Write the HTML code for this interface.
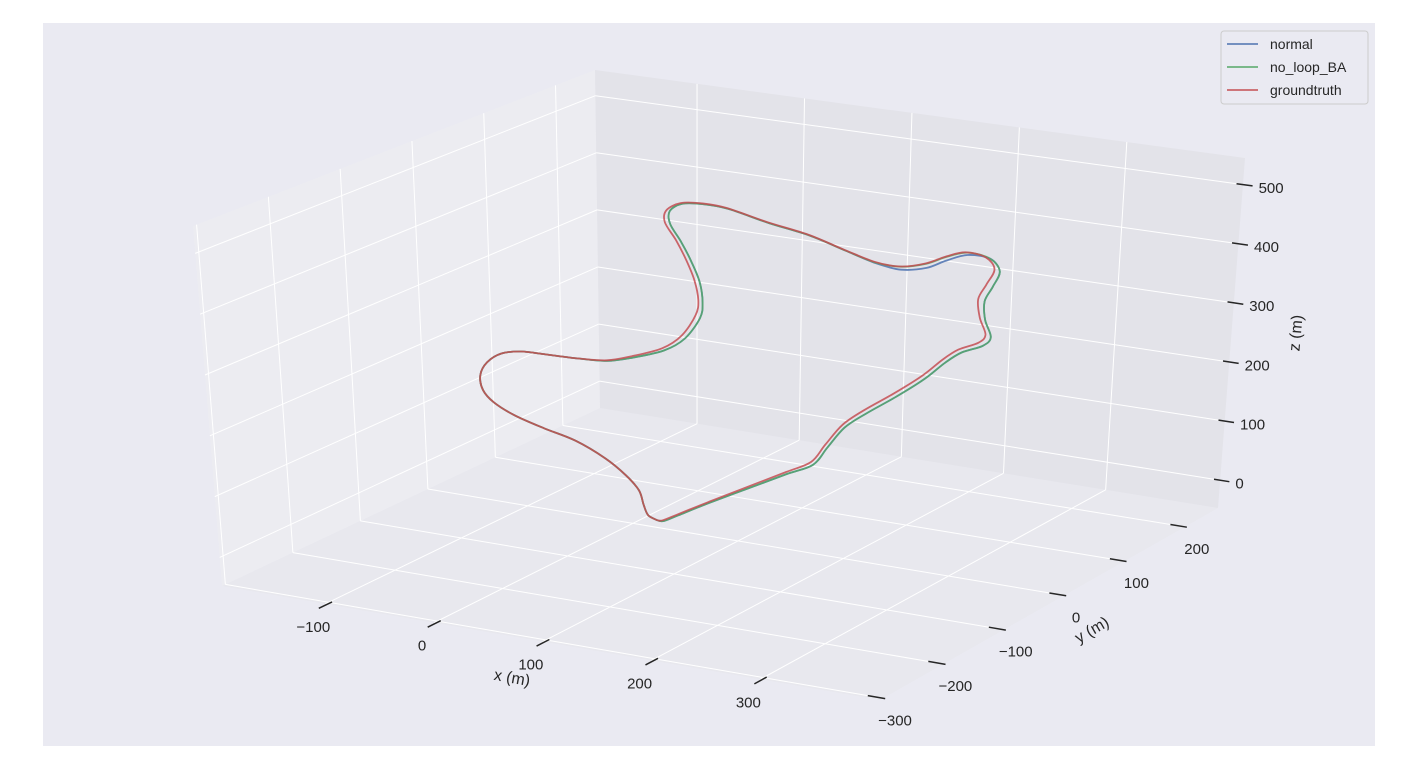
<!DOCTYPE html>
<html><head><meta charset="utf-8"><style>
html,body{margin:0;padding:0;background:#fff;}
svg{display:block;font-family:"Liberation Sans","DejaVu Sans",sans-serif;}
</style></head><body>
<svg id="chart" width="1418" height="769" viewBox="0 0 1418 769">
<rect x="43" y="23" width="1332" height="723" fill="#eaeaf2"/>
<g id="panes"></g>
<g id="grid"></g>
<g id="series"></g>
<g id="ticks"></g>
<text x="512" y="683" font-size="16" fill="#262626" text-anchor="middle" transform="rotate(10 512 678)">x (m)</text>
<text x="1092" y="635" font-size="16" fill="#262626" text-anchor="middle" transform="rotate(-30 1092 630)">y (m)</text>
<text x="1296" y="338" font-size="16" fill="#262626" text-anchor="middle" transform="rotate(-85 1296 333)">z (m)</text>
<g>
<rect x="1221" y="31" width="147" height="73" rx="3" fill="#eaeaf2" stroke="#cccccc" stroke-width="1"/>
<g><line x1="1227" y1="44" x2="1258" y2="44" stroke="#4c72b0" stroke-width="1.6"/><text x="1270" y="49" font-size="14" fill="#262626">normal</text></g>
<g><line x1="1227" y1="67" x2="1258" y2="67" stroke="#55a868" stroke-width="1.6"/><text x="1270" y="72" font-size="14" fill="#262626">no_loop_BA</text></g>
<g><line x1="1227" y1="90" x2="1258" y2="90" stroke="#c44e52" stroke-width="1.6"/><text x="1270" y="95" font-size="14" fill="#262626">groundtruth</text></g>
</g>
</svg>
<script>
const xTicks=[-100,0,100,200,300];
const yTicks=[-300,-200,-100,0,100,200];
const zTicks=[0,100,200,300,400,500];
const gtX=[24,15,11,7,-5,-24,-52,-81,-109,-128,-138,-140,-133,-119,-100,-76,-47,-19,5,34,53,67,70,67,60,51,41,43,57,76,100,138,176,210,238,262,286,305,324,343,351,343,335,336,341,334,315,300,281,253,224,203,186,172,148,110,72,43,29,24];
const gtZ=[-35,-29,-13,11,33,56,78,90,104,120,138,163,187,206,215,217,219,224,238,260,287,326,352,385,417,448,476,497,513,518,517,504,494,478,466,465,477,494,507,504,486,458,431,400,373,357,340,319,287,248,211,180,141,108,84,47,10,-19,-33,-35];
const nlX=[24,15,11,7,-5,-24,-52,-81,-109,-128,-138,-140,-133,-119,-100,-76,-47,-19,6,36,56,71,74,72,65,56,46,46,58,77,101,139,177,211,239,263,287,306,326,347,356,349,341,341,346,338,318,302,283,255,226,205,188,174,149,111,73,44,30,24];
const nlZ=[-35,-29,-13,11,33,56,78,90,104,120,138,163,187,206,215,217,219,223,236,257,283,322,349,383,415,446,474,496,512,517,516,503,493,477,465,465,477,494,507,503,484,456,429,398,370,353,336,314,282,243,206,176,137,104,81,45,9,-20,-34,-35];
const nmX=[24,15,11,7,-5,-24,-52,-81,-109,-128,-138,-140,-133,-119,-100,-76,-47,-19,6,36,56,71,74,72,65,56,46,46,58,77,101,139,177,211,239,263,287,306,326,347,356,349,341,341,346,338,318,302,283,255,226,205,188,174,149,111,73,44,30,24];
const nmZ=[-35,-29,-13,11,33,56,78,90,104,120,138,163,187,206,215,217,219,223,236,257,283,322,349,383,415,446,474,496,512,517,516,503,493,477,464,460,470,488,503,503,484,456,429,398,370,353,336,314,282,243,206,176,137,104,81,45,9,-20,-34,-35];
const X0=-195,X1=410,Y0=-305,Y1=255,Z0=-47,Z1=545;
const C={A:[222,586],B:[880,700],Cc:[1218,508],D:[600,408],E:[193,226],F:[831,348],G:[1245,158],H:[595,70]};
function lerp(a,b,t){return [a[0]+(b[0]-a[0])*t,a[1]+(b[1]-a[1])*t];}
function P(x,y,z){
  const tx=(x-X0)/(X1-X0),ty=(y-Y0)/(Y1-Y0),tz=(z-Z0)/(Z1-Z0);
  const b0=lerp(lerp(C.A,C.B,tx),lerp(C.D,C.Cc,tx),ty);
  const b1=lerp(lerp(C.E,C.F,tx),lerp(C.H,C.G,tx),ty);
  return lerp(b0,b1,tz);
}
const NS='http://www.w3.org/2000/svg';
function mk(tag,attrs,parent){const e=document.createElementNS(NS,tag);for(const k in attrs)e.setAttribute(k,attrs[k]);parent.appendChild(e);return e;}
const panes=document.getElementById('panes'),grid=document.getElementById('grid'),series=document.getElementById('series'),ticks=document.getElementById('ticks');
function poly(pts,fill,name){const e=mk('polygon',{points:pts.map(p=>p.join(',')).join(' '),fill:fill},panes);

}
poly([P(X0,Y0,Z0),P(X1,Y0,Z0),P(X1,Y1,Z0),P(X0,Y1,Z0)],'#e8e8ee','floor-pane');
poly([P(X0,Y0,Z0),P(X0,Y1,Z0),P(X0,Y1,Z1),P(X0,Y0,Z1)],'#ececf1','left-pane');
poly([P(X0,Y1,Z0),P(X1,Y1,Z0),P(X1,Y1,Z1),P(X0,Y1,Z1)],'#e3e3e9','back-pane');
function seg(p,q,stroke,w,parent,name){const e=mk('line',{x1:p[0],y1:p[1],x2:q[0],y2:q[1],stroke:stroke,'stroke-width':w},parent);

return e;}
xTicks.forEach(x=>{seg(P(x,Y1,Z0),P(x,Y1,Z1),'#fff',1,grid,'grid-x-back');seg(P(x,Y0,Z0),P(x,Y1,Z0),'#fff',1,grid,'grid-x-floor');});
yTicks.forEach(y=>{seg(P(X0,y,Z0),P(X0,y,Z1),'#fff',1,grid,'grid-y-left');seg(P(X0,y,Z0),P(X1,y,Z0),'#fff',1,grid,'grid-y-floor');});
zTicks.forEach(z=>{seg(P(X0,Y0,z),P(X0,Y1,z),'#fff',1,grid,'grid-z-left');seg(P(X0,Y1,z),P(X1,Y1,z),'#fff',1,grid,'grid-z-back');});
function lbl(p,txt,anchor,name){const t=mk('text',{x:p[0],y:p[1],'font-size':15,fill:'#262626','text-anchor':anchor},ticks);t.textContent=txt;

}
xTicks.forEach(x=>{const a=P(x,Y0-10,Z0-2),b=P(x,Y0+10,Z0-2);seg(a,b,'#262626',1.5,ticks,'x-tick-mark');const m=P(x,Y0,Z0);lbl([m[0]-12,m[1]+28],String(x).replace('-','\u2212'),'middle','x-tick-label');});
yTicks.forEach(y=>{const a=P(X1-14,y,Z0),b=P(X1+2,y,Z0);seg(a,b,'#262626',1.5,ticks,'y-tick-mark');const m=P(X1,y,Z0);lbl([m[0]+12,m[1]+27],String(y).replace('-','\u2212'),'middle','y-tick-label');});
zTicks.forEach(z=>{const a=P(X1-6,Y1,z),b=P(X1+9,Y1,z);seg(a,b,'#262626',1.5,ticks,'z-tick-mark');const m=P(X1+9,Y1,z);lbl([m[0]+6,m[1]+7],String(z),'start','z-tick-label');});
function path(xs,zs,color,name){
  const pts=xs.map((x,i)=>P(x,0,zs[i]));
  let d='M'+pts[0][0].toFixed(1)+','+pts[0][1].toFixed(1);
  for(let i=0;i<pts.length-1;i++){
    const p0=pts[Math.max(i-1,0)],p1=pts[i],p2=pts[i+1],p3=pts[Math.min(i+2,pts.length-1)];
    const c1=[p1[0]+(p2[0]-p0[0])/6,p1[1]+(p2[1]-p0[1])/6],c2=[p2[0]-(p3[0]-p1[0])/6,p2[1]-(p3[1]-p1[1])/6];
    d+=' C'+c1[0].toFixed(1)+','+c1[1].toFixed(1)+' '+c2[0].toFixed(1)+','+c2[1].toFixed(1)+' '+p2[0].toFixed(1)+','+p2[1].toFixed(1);
  }
  const e=mk('path',{d:d,fill:'none',stroke:color,'stroke-width':1.8,'stroke-linejoin':'round','stroke-opacity':0.85},series);
  
  }
path(nmX,nmZ,'#4c72b0','series-normal');
path(nlX,nlZ,'#55a868','series-no-loop-ba');
path(gtX,gtZ,'#c44e52','series-groundtruth');
</script>
</body></html>
